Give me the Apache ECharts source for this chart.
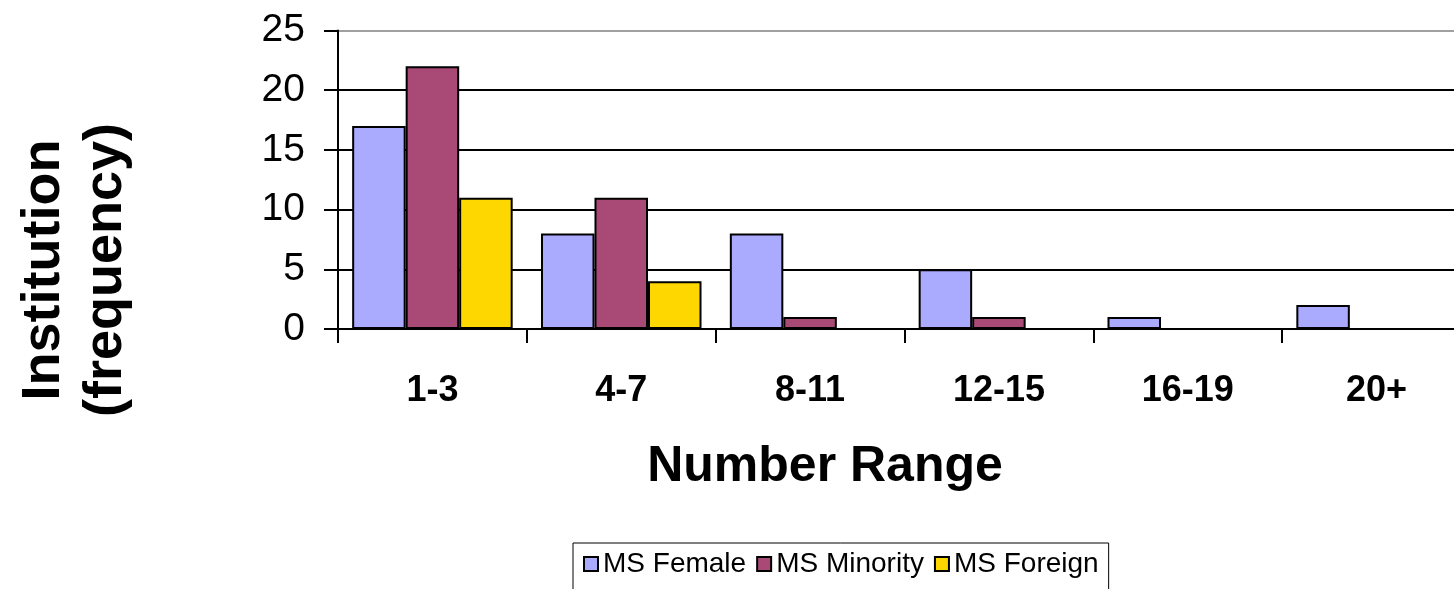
<!DOCTYPE html>
<html>
<head>
<meta charset="utf-8">
<script src="https://cdn.jsdelivr.net/npm/echarts@6/dist/echarts.min.js"></script>
<style>
  html, body { margin: 0; padding: 0; background: #fff; }
  #main { width: 1454px; height: 589px; }
</style>
</head>
<body>
<div id="main"></div>
<script>
// 数据
var categories = ['1-3', '4-7', '8-11', '12-15', '16-19', '20+'];
var msFemale   = [17, 8, 8, 5, 1, 2];
var msMinority = [22, 11, 1, 1, 0, 0];
var msForeign  = [11, 4, 0, 0, 0, 0];
var seriesNames = ['MS Female', 'MS Minority', 'MS Foreign'];
var yTicks = [0, 5, 10, 15, 20, 25];
var xTitle = 'Number Range';
var yTitle = 'Institution\n(frequency)';

var font = 'Liberation Sans, Arial, sans-serif';

function barSeries(name, data, color) {
    return {
        name: name,
        type: 'bar',
        data: data,
        barGap: '0%',
        barCategoryGap: '15%',
        itemStyle: {
            color: color,
            borderColor: '#000',
            borderWidth: 2
        }
    };
}

var chartOption = {
    animation: false,
    textStyle: { fontFamily: font },
    grid: {
        left: 338,
        top: 30.5,
        right: -17,
        bottom: 260,
        outerBoundsMode: 'none',
        containLabel: false
    },
    legend: {
        data: seriesNames,
        left: 573,
        top: 543,
        orient: 'horizontal',
        icon: 'rect',
        itemWidth: 14,
        itemHeight: 14,
        itemGap: 10,
        padding: [7, 10, 12, 10],
        borderColor: '#000',
        borderWidth: 1,
        backgroundColor: '#fff',
        textStyle: { fontSize: 28, color: '#000', fontFamily: font }
    },
    graphic: [
        {
            type: 'text',
            x: 825,
            y: 467,
            style: {
                text: xTitle,
                align: 'center',
                verticalAlign: 'middle',
                font: 'bold 50px ' + font,
                fill: '#000'
            }
        },
        {
            type: 'text',
            x: 75,
            y: 270,
            rotation: Math.PI / 2,
            style: {
                text: yTitle,
                align: 'center',
                verticalAlign: 'middle',
                font: 'bold 54px ' + font,
                lineHeight: 62,
                fill: '#000'
            }
        }
    ],
    xAxis: [
        {
            type: 'category',
            data: categories,
            axisLine: { lineStyle: { color: '#000', width: 2 } },
            axisTick: { show: true, length: 14, lineStyle: { color: '#000', width: 2 } },
            axisLabel: { fontSize: 36, fontWeight: 'bold', color: '#000', margin: 44 }
        }
    ],
    yAxis: [
        {
            type: 'value',
            min: yTicks[0],
            max: yTicks[yTicks.length - 1],
            interval: 5,
            axisLine: { show: true, lineStyle: { color: '#000', width: 2 } },
            axisTick: { show: true, length: 14, lineStyle: { color: '#000', width: 2 } },
            axisLabel: { fontSize: 39, color: '#000', margin: 33 },
            splitLine: {
                show: true,
                lineStyle: { color: ['#000', '#000', '#000', '#000', '#000', '#a0a0a0'], width: 2 }
            }
        }
    ],
    series: [
        barSeries(seriesNames[0], msFemale, '#aaaaff'),
        barSeries(seriesNames[1], msMinority, '#a94a76'),
        barSeries(seriesNames[2], msForeign, '#ffd700')
    ]
};

var domMain = document.getElementById('main');
var barChart = echarts.init(domMain);
barChart.setOption(chartOption, false);
</script>
</body>
</html>
